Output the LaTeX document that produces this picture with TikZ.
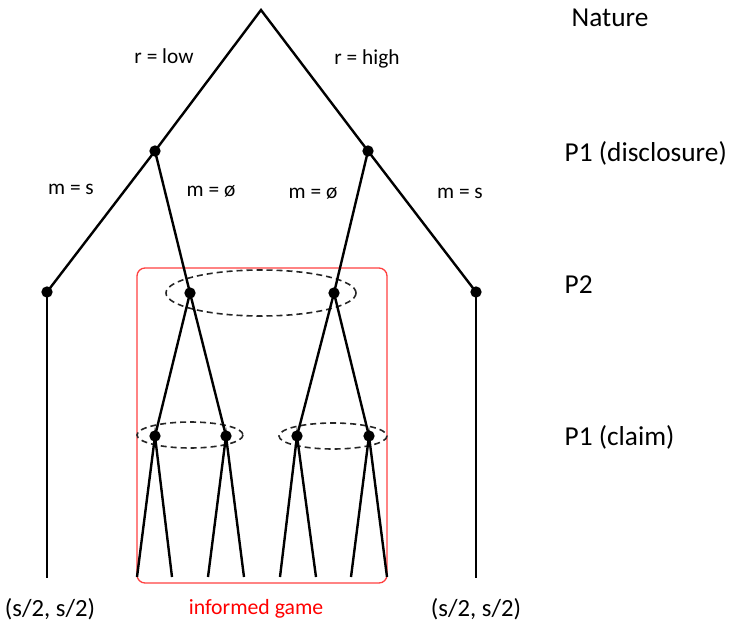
\documentclass[tikz,border=0pt]{standalone}
\usepackage{fontspec}
\setmainfont{Carlito}
\begin{document}
\begin{tikzpicture}[x=0.75pt,y=-0.75pt,
  edge/.style={line width=1.8pt,black},
  dot/.style={circle,fill=black,inner sep=0pt,minimum size=8.5pt},
  info/.style={line width=1.2pt,dash pattern=on 4.5pt off 3pt,black!85},
  lvl/.style={font=\fontsize{20.5}{24}\selectfont,anchor=west},
  pay/.style={font=\fontsize{18.5}{22}\selectfont},
  lab/.style={font=\fontsize{16}{19}\selectfont}]
\useasboundingbox (0,0) rectangle (732,624);
% red box
\draw[red!75,line width=1pt,rounded corners=6pt] (137,268) rectangle (387,583);
% info sets
\draw[info] (261,293) ellipse [x radius=95,y radius=23];
\draw[info] (190,435) ellipse [x radius=53,y radius=13];
\draw[info] (333,436) ellipse [x radius=54,y radius=13];
% nodes
\coordinate (root) at (261,10);
\node[dot] (a) at (155,151) {};
\node[dot] (b) at (368,151) {};
\node[dot] (c1) at (47,292) {};
\node[dot] (c2) at (190,293) {};
\node[dot] (c3) at (334,293) {};
\node[dot] (c4) at (476,292) {};
\node[dot] (d1) at (155,436) {};
\node[dot] (d2) at (226,436) {};
\node[dot] (d3) at (297,436) {};
\node[dot] (d4) at (369,436) {};
\coordinate (t1) at (47,578);
\coordinate (t2) at (476,578);
\coordinate (l1) at (137,577);
\coordinate (l2) at (172,577);
\coordinate (l3) at (208,577);
\coordinate (l4) at (244,577);
\coordinate (l5) at (280,577);
\coordinate (l6) at (316,577);
\coordinate (l7) at (351,577);
\coordinate (l8) at (387,577);
% edges
\draw[edge] (a.center) -- (root) -- (b.center);
\draw[edge] (c1.center) -- (a.center) -- (c2.center);
\draw[edge] (c3.center) -- (b.center) -- (c4.center);
\draw[edge] (c1.center) -- (t1);
\draw[edge] (c4.center) -- (t2);
\draw[edge] (d1.center) -- (c2.center) -- (d2.center);
\draw[edge] (d3.center) -- (c3.center) -- (d4.center);
\draw[edge] (l1) -- (d1.center) -- (l2);
\draw[edge] (l3) -- (d2.center) -- (l4);
\draw[edge] (l5) -- (d3.center) -- (l6);
\draw[edge] (l7) -- (d4.center) -- (l8);
% level labels
\node[lvl] (n1) at (567,18) {Nature};
\node[lvl] (n2) at (560,153) {P1 (disclosure)};
\node[lvl] (n3) at (560,285) {P2};
\node[lvl] (n4) at (560,437) {P1 (claim)};
% edge labels
\node[lab] (e1) at (164,56) {r = low};
\node[lab] (e2) at (367,59) {r = high};
\node[lab] (e3) at (71,189) {m = s};
\node[lab] (e4) at (211,191) {m = ø};
\node[lab] (e5) at (313,193) {m = ø};
\node[lab] (e6) at (460,193) {m = s};
% bottom
\node[pay] (p1) at (50,609) {(s/2, s/2)};
\node[text=red,font=\fontsize{16.3}{20}\selectfont] (p2) at (256,609) {informed game};
\node[pay] (p3) at (476,609) {(s/2, s/2)};
\end{tikzpicture}
\end{document}
